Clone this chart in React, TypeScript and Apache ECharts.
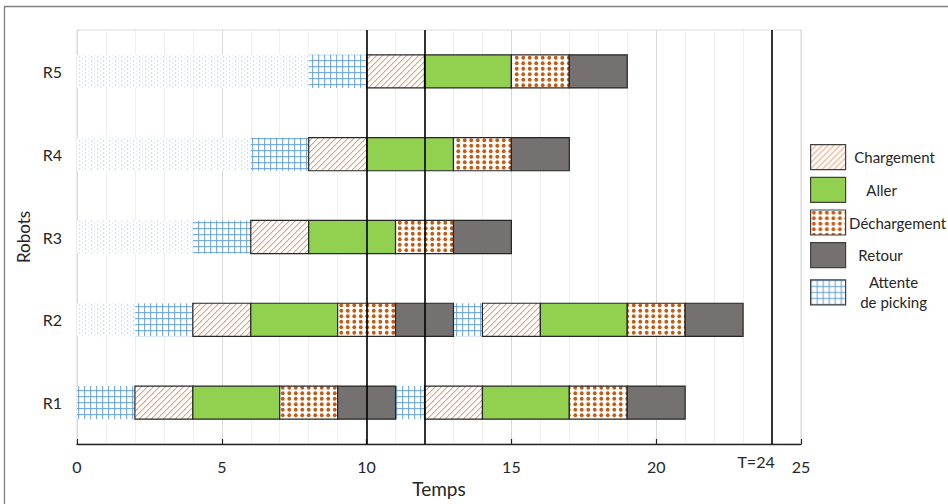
import React, { useEffect, useRef } from "react";
import * as echarts from "echarts";

// ---- Data ----
const robots = ["R1", "R2", "R3", "R4", "R5"];
const xTicksMax = 25;
const markers = [10, 12, 24];
const markerLabel = "T=24";

// [robotIndex, start, end]
const inactif = [[1, 0, 2], [2, 0, 4], [3, 0, 6], [4, 0, 8]];
const attente = [[0, 0, 2], [0, 11, 12], [1, 2, 4], [1, 13, 14], [2, 4, 6], [3, 6, 8], [4, 8, 10]];
const chargement = [[0, 2, 4], [0, 12, 14], [1, 4, 6], [1, 14, 16], [2, 6, 8], [3, 8, 10], [4, 10, 12]];
const aller = [[0, 4, 7], [0, 14, 17], [1, 6, 9], [1, 16, 19], [2, 8, 11], [3, 10, 13], [4, 12, 15]];
const dechargement = [[0, 7, 9], [0, 17, 19], [1, 9, 11], [1, 19, 21], [2, 11, 13], [3, 13, 15], [4, 15, 17]];
const retour = [[0, 9, 11], [0, 19, 21], [1, 11, 13], [1, 21, 23], [2, 13, 15], [3, 15, 17], [4, 17, 19]];

const FONT = "Lato, 'Open Sans', sans-serif";
const TXT = "#262626";

function makePattern(w: number, h: number, draw: (ctx: CanvasRenderingContext2D) => void) {
  const c = document.createElement("canvas");
  c.width = w;
  c.height = h;
  const ctx = c.getContext("2d")!;
  ctx.fillStyle = "#ffffff";
  ctx.fillRect(0, 0, w, h);
  draw(ctx);
  const url = c.toDataURL("image/png");
  return () => ({ image: url, repeat: "repeat", imageWidth: w, imageHeight: h } as any);
}

export default function App() {
  const ref = useRef<HTMLDivElement>(null);
  useEffect(() => {
    if (!ref.current) return;
    const chart = echarts.init(ref.current, null, { renderer: "svg" });

    const patCharg = makePattern(6, 6, (ctx) => {
      ctx.fillStyle = "rgba(236,150,95,0.95)";
      for (let i = 0; i < 6; i++) {
        ctx.fillRect(i, 5 - i, 1, 1);
      }
      ctx.fillStyle = "rgba(236,150,95,0.35)";
      for (let i = 0; i < 6; i++) {
        ctx.fillRect((i + 1) % 6, 5 - i, 1, 1);
      }
    });
    const patDech = makePattern(13, 11, (ctx) => {
      ctx.fillStyle = "#C55A11";
      for (const [cx, cy] of [[3.25, 2.75], [9.75, 2.75], [3.25, 8.25], [9.75, 8.25]]) {
        ctx.beginPath();
        ctx.arc(cx, cy, 1.9, 0, Math.PI * 2);
        ctx.fill();
      }
    });
    const patGrid = makePattern(6, 6, (ctx) => {
      ctx.fillStyle = "rgba(91,155,213,0.8)";
      ctx.fillRect(0, 0, 1.2, 6);
      ctx.fillRect(0, 0, 6, 1.2);
    });
    const patDots = makePattern(6, 4, (ctx) => {
      ctx.fillStyle = "rgba(91,155,213,0.5)";
      ctx.fillRect(1, 0.5, 1.2, 1.2);
      ctx.fillStyle = "rgba(91,155,213,0.28)";
      ctx.fillRect(4, 2.5, 1.2, 1.2);
    });

    const BORDER = "#262626";
    const types = [
      { name: "Inactif", data: inactif, fill: patDots, stroke: null },
      { name: "Attente de picking", data: attente, fill: patGrid, stroke: null },
      { name: "Chargement", data: chargement, fill: patCharg, stroke: BORDER },
      { name: "Aller", data: aller, fill: () => "#92D050", stroke: BORDER },
      { name: "Déchargement", data: dechargement, fill: patDech, stroke: BORDER },
      { name: "Retour", data: retour, fill: () => "#767171", stroke: BORDER },
    ];

    const series: any[] = types.map((t, idx) => {
      const fill = t.fill();
      return {
        type: "custom",
        name: t.name,
        encode: { x: [1, 2], y: 0 },
        itemStyle: { color: t.fill(), borderColor: t.stroke || "transparent" },
        renderItem: (params: any, api: any) => {
          const r = api.value(0);
          const p0 = api.coord([api.value(1), r]);
          const p1 = api.coord([api.value(2), r]);
          const h = api.size([0, 1])[1] * 0.4;
          return {
            type: "rect",
            shape: { x: p0[0], y: p0[1] - h / 2, width: p1[0] - p0[0], height: h },
            style: {
              fill: fill,
              stroke: t.stroke || null,
              lineWidth: t.stroke ? 1.2 : 0,
            },
          };
        },
        data: t.data,
        z: 2,
        ...(idx === 5
          ? {
              markLine: {
                silent: true,
                symbol: "none",
                z: 5,
                lineStyle: { color: "#000", width: 1.6, type: "solid" },
                data: markers.map((v) => ({
                  xAxis: v,
                  label:
                    v === 24
                      ? {
                          show: true,
                          position: "start",
                          distance: 9,
                          formatter: markerLabel,
                          fontSize: 16,
                          fontFamily: FONT,
                          color: TXT,
                          padding: [0, 32, 0, 0],
                        }
                      : { show: false },
                })),
              },
            }
          : {}),
      };
    });

    const legendNames = ["Chargement", "Aller", "Déchargement", "Retour", "Attente de picking"];
    const legendKeys: Record<string, string> = {
      Chargement: "a",
      Aller: "b",
      "Déchargement": "c",
      Retour: "d",
      "Attente de picking": "e",
    };
    const richBase = { fontSize: 15, fontFamily: FONT, color: TXT, align: "center", lineHeight: 20 };

    chart.setOption({
      animation: false,
      grid: {
        left: 77,
        right: 147,
        top: 30,
        bottom: 60,
        show: true,
        borderColor: "#d9d9d9",
        borderWidth: 1,
        outerBoundsMode: "none",
      },
      xAxis: {
        type: "value",
        min: 0,
        max: xTicksMax,
        interval: 5,
        name: "Temps",
        nameLocation: "middle",
        nameGap: 34,
        nameTextStyle: { fontSize: 19, color: TXT, fontFamily: FONT },
        axisLine: { show: true, lineStyle: { color: TXT, width: 1.3 } },
        axisTick: { show: true, inside: true, length: 5, lineStyle: { color: TXT, width: 1.2 } },
        axisLabel: { fontSize: 16, color: TXT, margin: 14, fontFamily: FONT },
        splitLine: { show: true, lineStyle: { color: "#d9d9d9", width: 1 } },
        minorTick: { show: false, splitNumber: 5 },
        minorSplitLine: { show: true, lineStyle: { color: "#efefef", width: 1 } },
      },
      yAxis: {
        type: "category",
        data: robots,
        name: "Robots",
        nameLocation: "middle",
        nameGap: 44,
        nameRotate: 90,
        nameTextStyle: { fontSize: 17, color: TXT, fontFamily: FONT },
        axisLine: { show: false },
        axisTick: { show: false },
        splitLine: { show: false },
        axisLabel: { fontSize: 16, color: TXT, margin: 15, fontFamily: FONT },
      },
      legend: {
        orient: "vertical",
        left: 810,
        top: 144,
        padding: 0,
        itemWidth: 35,
        itemHeight: 25,
        itemGap: 6.5,
        icon: "rect",
        selectedMode: false,
        data: legendNames.map((n) => {
          const t = types.find((x) => x.name === n)!;
          return {
            name: n,
            itemStyle: { color: t.fill(), borderColor: "#404040", borderWidth: 1.2 },
          };
        }),
        formatter: (name: string) =>
          name === "Attente de picking" ? "{e|Attente}\n{e|de picking}" : "{" + legendKeys[name] + "|" + name + "}",
        textStyle: {
          fontSize: 15,
          fontFamily: FONT,
          color: TXT,
          rich: {
            a: { ...richBase, width: 88 },
            b: { ...richBase, width: 62 },
            c: { ...richBase, width: 94 },
            d: { ...richBase, width: 60 },
            e: { ...richBase, width: 86 },
          },
        },
      },
      graphic: [
        {
          type: "rect",
          shape: { x: 4.5, y: 6.5, width: 1000, height: 600 },
          style: { fill: "none", stroke: "#7f7f7f", lineWidth: 1.3 },
          silent: true,
          z: 100,
        },
      ],
      series,
    });
    return () => chart.dispose();
  }, []);
  return (
    <div
      ref={ref}
      style={{ position: "absolute", left: 0, top: 0, width: 948, height: 504, background: "#fff" }}
    />
  );
}
